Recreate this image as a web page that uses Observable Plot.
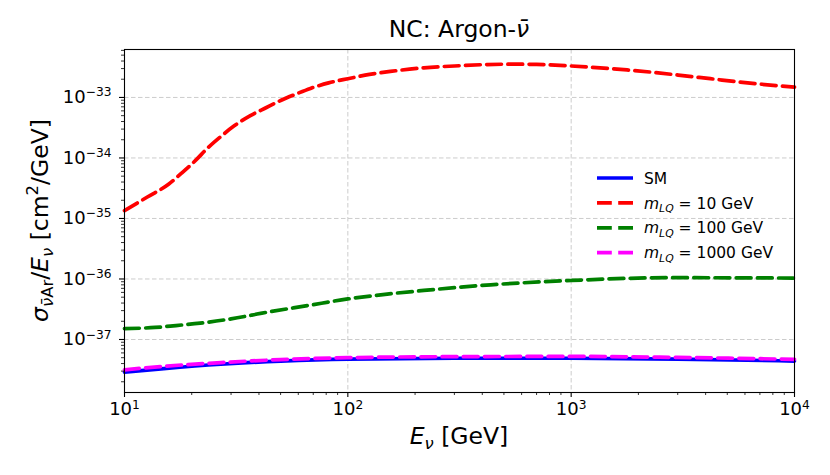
<!DOCTYPE html>
<html><head><meta charset="utf-8">
<script src="https://cdn.jsdelivr.net/npm/d3@7"></script>
<script src="https://cdn.jsdelivr.net/npm/@observablehq/plot@0.6"></script>
<style>
body{margin:0;background:#fff}
#chart svg{font-family:"DejaVu Sans",sans-serif;background:#fff}
</style>
</head><body><div id="chart"></div>
<script>
// ---- data ----
const energySM = [10, 15, 27, 50, 100, 300, 1000, 3000, 10000];
const sigmaSM  = [2.88e-38, 3.3e-38, 3.9e-38, 4.4e-38, 4.75e-38, 4.9e-38, 4.9e-38, 4.75e-38, 4.4e-38];

const energyLQ10 = [10, 12.6, 15.8, 18, 20.8, 23.5, 26.9, 31, 36.6, 43, 50, 58, 68, 82, 100, 125, 155, 219, 300, 420, 550, 700, 1000, 1400, 1780, 2400, 3090, 4200, 6170, 10000];
const sigmaLQ10  = [1.35e-35, 2.24e-35, 3.72e-35, 5.6e-35, 9.1e-35, 1.445e-34, 2.24e-34, 3.39e-34, 5.01e-34, 6.76e-34, 8.9e-34, 1.12e-33, 1.41e-33, 1.74e-33, 2.04e-33, 2.4e-33, 2.69e-33, 3.09e-33, 3.31e-33, 3.5e-33, 3.55e-33, 3.51e-33, 3.31e-33, 3.05e-33, 2.85e-33, 2.57e-33, 2.32e-33, 2.04e-33, 1.74e-33, 1.48e-33];

const energyLQ100 = [10, 13.7, 17, 21.8, 30, 43.5, 66, 100, 150, 219, 436, 1000, 2760, 10000];
const sigmaLQ100  = [1.51e-37, 1.58e-37, 1.7e-37, 1.86e-37, 2.19e-37, 2.82e-37, 3.63e-37, 4.68e-37, 5.62e-37, 6.46e-37, 8.0e-37, 9.44e-37, 1.05e-36, 1.035e-36];

const energyLQ1000 = [10, 15, 27, 50, 100, 300, 1000, 3000, 10000];
const sigmaLQ1000  = [3.15e-38, 3.6e-38, 4.15e-38, 4.65e-38, 5.0e-38, 5.2e-38, 5.25e-38, 5.05e-38, 4.7e-38];

const xMajorTicks = [10, 100, 1000, 10000];
const yMajorTicks = [1e-37, 1e-36, 1e-35, 1e-34, 1e-33];
const xDomain = [10, 1e4];
const yDomain = [1.33e-38, 6.2e-33];

const seriesNames  = ["SM", "LQ10", "LQ100", "LQ1000"];
const seriesColors = ["#0000ff", "#ff0000", "#008000", "#ff00ff"];
const seriesDashed = [false, true, true, true];
const legendMass   = [null, "10", "100", "1000"];

// ---- helpers ----
const minorTicks = (lo, hi) => {
  const out = [];
  for (let e = Math.floor(Math.log10(lo)); e <= Math.ceil(Math.log10(hi)); e++)
    for (let k = 2; k <= 9; k++) { const v = k * Math.pow(10, e); if (v >= lo && v <= hi) out.push(v); }
  return out;
};
const xMinor = minorTicks(xDomain[0], xDomain[1]);
const yMinor = minorTicks(yDomain[0], yDomain[1]);
const pow10 = d => "10^" + String(Math.round(Math.log10(d))).replace("-", "\u2212");

const toRows = (E, S) => E.map((e, i) => ({E: e, s: S[i]}));
const seriesData = [toRows(energySM, sigmaSM), toRows(energyLQ10, sigmaLQ10), toRows(energyLQ100, sigmaLQ100), toRows(energyLQ1000, sigmaLQ1000)];

const W = 830, H = 475;
const gridStyle = {stroke: "#cccccc", strokeOpacity: 1, strokeWidth: 1, strokeDasharray: "4.5,2.5"};
const DASH = "14.8,6.4";

const lineMarks = seriesData.map((rows, i) => Plot.line(rows, {
  x: "E", y: "s", stroke: seriesColors[i], strokeWidth: 3.7,
  strokeDasharray: seriesDashed[i] ? DASH : null, curve: "monotone-x"
}));

const svg = Plot.plot({
  width: W, height: H,
  marginLeft: 124, marginRight: 36, marginTop: 49, marginBottom: 83,
  style: {fontSize: "18px", fontFamily: "DejaVu Sans, sans-serif", color: "black"},
  x: {type: "log", domain: xDomain, label: null},
  y: {type: "log", domain: yDomain, label: null},
  marks: [
    Plot.gridX(xMajorTicks, gridStyle),
    Plot.gridY(yMajorTicks, gridStyle),
    ...lineMarks,
    Plot.axisX(xMinor, {tickSize: 3, strokeWidth: 0.8, tickFormat: () => "", label: null}),
    Plot.axisY(yMinor, {tickSize: 3, strokeWidth: 0.8, tickFormat: () => "", label: null}),
    Plot.axisX(xMajorTicks, {tickSize: 5, strokeWidth: 1.1, tickPadding: 5, tickFormat: pow10, label: null}),
    Plot.axisY(yMajorTicks, {tickSize: 5, strokeWidth: 1.1, tickPadding: 8, tickFormat: pow10, label: null}),
    Plot.frame({stroke: "black", strokeWidth: 1.1})
  ]
});
document.getElementById("chart").appendChild(svg);

// superscripts in tick labels
const NS = "http://www.w3.org/2000/svg";
svg.querySelectorAll("text").forEach(t => {
  const m = /^10\^(.+)$/.exec(t.textContent);
  if (!m) return;
  t.textContent = "10";
  const sp = document.createElementNS(NS, "tspan");
  sp.setAttribute("dy", "-0.55em");
  sp.setAttribute("font-size", "0.68em");
  sp.textContent = m[1];
  t.appendChild(sp);
});

// rich text helper: parts = [{t, it, sub, sup}]
function rich(sel, parts, size) {
  let shift = 0;
  sel.attr("font-size", size);
  parts.forEach(p => {
    const sp = sel.append("tspan").text(p.t);
    let target = 0, fs = size;
    if (p.sub) { target = 0.22 * size; fs = 0.7 * size; }
    if (p.sup) { target = -0.42 * size; fs = 0.7 * size; }
    sp.attr("font-size", fs).attr("dy", target - shift);
    if (p.it) sp.attr("font-style", "italic");
    shift = target;
  });
}

const s = d3.select(svg);
const fr = {l: 124, r: W - 36, t: 49, b: H - 83};
const cx = (fr.l + fr.r) / 2, cy = (fr.t + fr.b) / 2;
const LABEL = 23.5;

// title
rich(s.append("text").attr("x", cx).attr("y", 37).attr("text-anchor", "middle"),
  [{t: "NC: Argon-"}, {t: "\u03bd\u0304", it: true}], LABEL);

// x label
rich(s.append("text").attr("x", cx).attr("y", 444).attr("text-anchor", "middle"),
  [{t: "E", it: true}, {t: "\u03bd", it: true, sub: true}, {t: " [GeV]"}], LABEL);

// y label
rich(s.append("text").attr("transform", `translate(48,${cy}) rotate(-90)`).attr("text-anchor", "middle"),
  [{t: "\u03c3", it: true}, {t: "\u03bd\u0304", it: true, sub: true}, {t: "Ar", sub: true},
   {t: "/"}, {t: "E", it: true}, {t: "\u03bd", it: true, sub: true},
   {t: " [cm"}, {t: "2", sup: true}, {t: "/GeV]"}], LABEL);

// legend
const lg = s.append("g").attr("text-anchor", "start");
seriesNames.forEach((n, i) => {
  const y = 178 + 24.9 * i;
  lg.append("line").attr("x1", 597).attr("x2", 633).attr("y1", y).attr("y2", y)
    .attr("stroke", seriesColors[i]).attr("stroke-width", 3.7)
    .attr("stroke-dasharray", seriesDashed[i] ? DASH : null);
  const t = lg.append("text").attr("x", 644).attr("y", y + 5.6).attr("text-anchor", "start");
  if (legendMass[i] === null) rich(t, [{t: "SM"}], 15.5);
  else rich(t, [{t: "m", it: true}, {t: "LQ", it: true, sub: true}, {t: " = " + legendMass[i] + " GeV"}], 15.5);
});
</script>
</body></html>
